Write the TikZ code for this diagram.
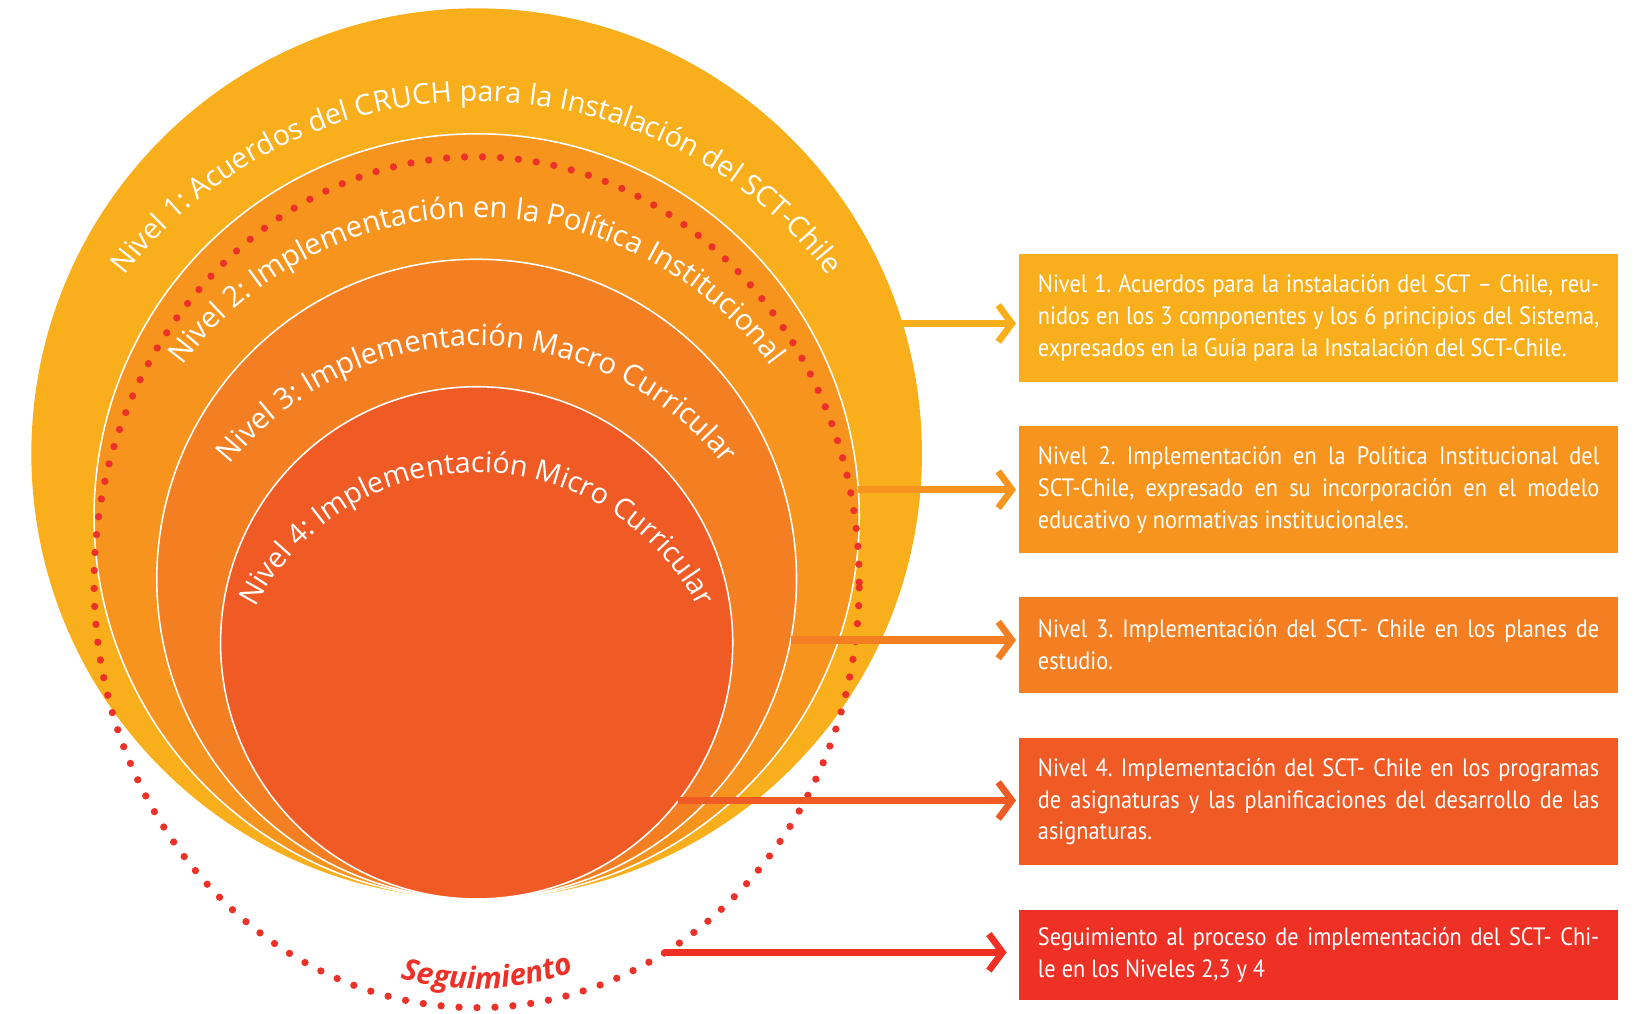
\documentclass[tikz,border=0pt]{standalone}
\usepackage{fontspec}
\usetikzlibrary{shapes.geometric, arrows.meta, decorations.text}
\newfontfamily\boxfont[FakeStretch=0.89]{PT Sans}
\newfontfamily\arcfont{Open Sans}
\definecolor{cA}{HTML}{F9AE1B}
\definecolor{cB}{HTML}{F7941E}
\definecolor{cC}{HTML}{F37F22}
\definecolor{cD}{HTML}{F05A24}
\definecolor{cE}{HTML}{EE3124}
\definecolor{dotred}{HTML}{EC3228}
\newlength{\boxtw}
\setlength{\boxtw}{268.5pt}
\tikzset{
  ring/.style={circle, inner sep=0pt, outer sep=0pt, draw=white, line width=0.75pt},
  boxnode/.style={rectangle, inner xsep=9pt, inner ysep=0pt, outer sep=0pt, text width=\boxtw,
     align=justify, text=white, font=\boxfont\fontsize{12}{15.25}\selectfont\frenchspacing},
  arr/.style={line width=3.5pt, -{Straight Barb[length=6.5pt,width=17.5pt,line width=3.2pt]}, shorten >=1.5pt},
  arctext/.style={decorate, decoration={text along path, text align=center, text color=white}},
}
\newcommand{\jl}[1]{{\spaceskip=\fontdimen2\font plus 1fil\relax\xspaceskip=\spaceskip\makebox[\boxtw][s]{#1}}}
\begin{document}
\begin{tikzpicture}[x=0.5pt, y=0.5pt]
\useasboundingbox (0,0) rectangle (1568,970);
% rings
\node[circle, inner sep=0pt, outer sep=0pt, fill=cA, minimum size=426pt] (c1) at (456,536) {};
\node[ring, fill=cB, minimum size=366pt] (c2) at (456,476) {};
\node[ring, fill=cC, minimum size=306pt] (c3) at (456,416) {};
\node[ring, fill=cD, minimum size=245pt] (c4) at (456,355) {};
% dotted follow-up ellipse
\node[ellipse, inner sep=0pt, outer sep=0pt, draw=dotred, line width=3.5pt, line cap=round,
      dash pattern=on 0pt off 8.6pt, minimum width=366pt, minimum height=407pt] (seg) at (456,413) {};
% curved labels
\path[arctext, decoration={text={|\arcfont\fontsize{13.7}{16}\selectfont|Nivel 1: Acuerdos del CRUCH para la Instalación del SCT-Chile}}]
  (456,450) ++(160:423) arc[start angle=160, end angle=20, radius=423];
\path[arctext, decoration={text={|\arcfont\fontsize{14}{16}\selectfont|Nivel 2: Implementación en la Política Institucional}}]
  (456,412) ++(165:350) arc[start angle=165, end angle=15, radius=350];
\path[arctext, decoration={text={|\arcfont\fontsize{14}{16}\selectfont|Nivel 3: Implementación Macro Curricular}}]
  (456,337) ++(165:302) arc[start angle=165, end angle=15, radius=302];
\path[arctext, decoration={text={|\arcfont\fontsize{13.7}{16}\selectfont|Nivel 4: Implementación Micro Curricular}}]
  (456,280) ++(175:238) arc[start angle=175, end angle=5, radius=238];
\path[decorate, decoration={text along path, text align=center, text color=dotred,
   text={|\arcfont\bfseries\itshape\fontsize{14.3}{16}\selectfont|Seguimiento}}]
  (457,294) ++(232:270) arc[start angle=232, end angle=312, radius=270];
% boxes
\node[boxnode, fill=cA, minimum height=61pt] (b1) at (1261.5,666)
  {\jl{Nivel 1. Acuerdos para la instalación del SCT – Chile, reu-}\\
   \jl{nidos en los 3 componentes y los 6 principios del Sistema,}\\
   expresados en la Guía para la Instalación del SCT-Chile.};
\node[boxnode, fill=cB, minimum height=60.5pt] (b2) at (1261.5,501.5)
  {\jl{Nivel 2. Implementación en la Política Institucional del}\\
   \jl{SCT-Chile, expresado en su incorporación en el modelo}\\
   educativo y normativas institucionales.};
\node[boxnode, fill=cC, minimum height=46pt] (b3) at (1261.5,353)
  {\jl{Nivel 3. Implementación del SCT- Chile en los planes de}\\
   estudio.};
\node[boxnode, fill=cD, minimum height=61pt] (b4) at (1261.5,203)
  {\jl{Nivel 4. Implementación del SCT- Chile en los programas}\\
   \jl{de asignaturas y las planificaciones del desarrollo de las}\\
   asignaturas.};
\node[boxnode, fill=cE, minimum height=43pt] (b5) at (1261.5,56)
  {\jl{Seguimiento al proceso de implementación del SCT- Chi-}\\
   le en los Niveles 2,3 y 4};
% arrows
\draw[arr, draw=cA] (c1.17.77) -- (c1.17.77 -| b1.west);
\draw[arr, draw=cB] (c2.4.0) -- (c2.4.0 -| b2.west);
\draw[arr, draw=cC] (c3.-11.88) -- (c3.-11.88 -| b3.west);
\draw[arr, draw=cD] (c4.-38.35) -- (c4.-38.35 -| b4.west);
\draw[arr, draw=cE, line cap=round, shorten >=6pt] (seg.-63.78) -- (seg.-63.78 -| b5.west);
\end{tikzpicture}
\end{document}
